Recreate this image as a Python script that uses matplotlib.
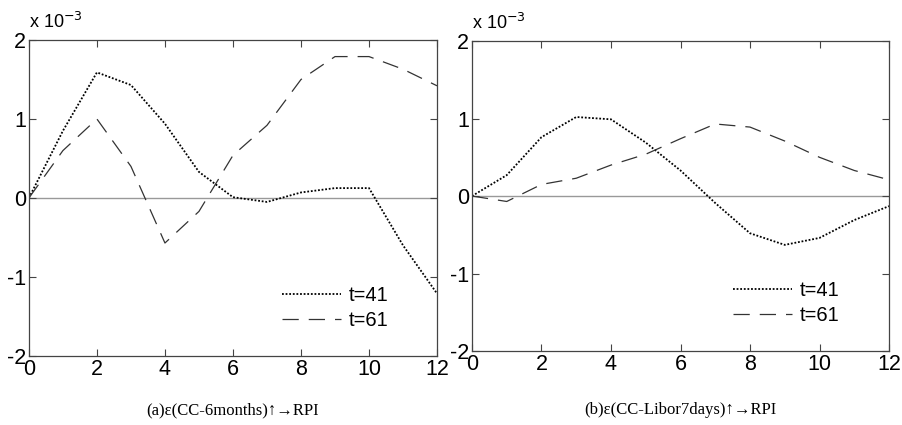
import matplotlib
matplotlib.use("Agg")
import matplotlib.pyplot as plt

x = list(range(13))
a_t41 = [0, 0.85, 1.59, 1.43, 0.94, 0.33, 0.01, -0.05, 0.07, 0.125, 0.125, -0.6, -1.21]
a_t61 = [0, 0.6, 1.0, 0.40, -0.57, -0.17, 0.54, 0.92, 1.5, 1.79, 1.79, 1.63, 1.42]
b_t41 = [0, 0.27, 0.76, 1.02, 0.99, 0.69, 0.33, -0.09, -0.48, -0.63, -0.54, -0.31, -0.13]
b_t61 = [0, -0.07, 0.15, 0.23, 0.40, 0.54, 0.74, 0.93, 0.89, 0.71, 0.50, 0.33, 0.21]
scale = 1e-3
xticks = [0, 2, 4, 6, 8, 10, 12]
yticks = [-2, -1, 0, 1, 2]
captions = ["(a)\u03b5(CC-6months)\u2191\u2192RPI", "(b)\u03b5(CC-Libor7days)\u2191\u2192RPI"]
labels = ["t=41", "t=61"]

plt.rcParams['font.family'] = ['Liberation Sans', 'DejaVu Sans']
fig = plt.figure(figsize=(9.03, 4.25), dpi=100)
positions = [[0.032, 0.1624, 0.452, 0.7435], [0.5227, 0.174, 0.4618, 0.7294]]
data = [(a_t41, a_t61), (b_t41, b_t61)]
leg_anchor = [(0.925, 0.025), (0.925, 0.025)]

for pos, (s41, s61), cap, anc in zip(positions, data, captions, leg_anchor):
    ax = fig.add_axes(pos)
    ax.axhline(0, color='#999999', lw=1.0, zorder=1)
    ax.plot(x, [v * scale for v in s41], color='black', lw=1.3, linestyle=(0, (1, 1)), label=labels[0])
    ax.plot(x, [v * scale for v in s61], color='#333333', lw=0.9, linestyle=(0, (13, 8)), label=labels[1])
    ax.set_xlim(0, 12)
    ax.set_ylim(-2e-3, 2e-3)
    ax.set_xticks(xticks)
    ax.set_xticklabels([str(t) for t in xticks])
    ax.set_yticks([t * scale for t in yticks])
    ax.set_yticklabels([str(t) for t in yticks])
    ax.tick_params(direction='in', top=True, right=True, length=5, width=0.8,
                   labelsize=15.5, pad=2, color='#444444')
    for sp in ax.spines.values():
        sp.set_color('#444444')
        sp.set_linewidth(0.9)
    ax.text(0.0, 1.025, "x 10$^{-3}$", transform=ax.transAxes, fontsize=13,
            ha='left', va='bottom')
    ax.legend(loc='lower right', bbox_to_anchor=anc, frameon=False,
              fontsize=14.5, handlelength=2.9, handletextpad=0.4, labelspacing=0.3)
    fig.text(pos[0] + pos[2] / 2, 0.035, cap, ha='center', va='center',
             fontsize=12, family=['Liberation Serif', 'DejaVu Serif'])

fig.savefig("out.png", dpi=100)
